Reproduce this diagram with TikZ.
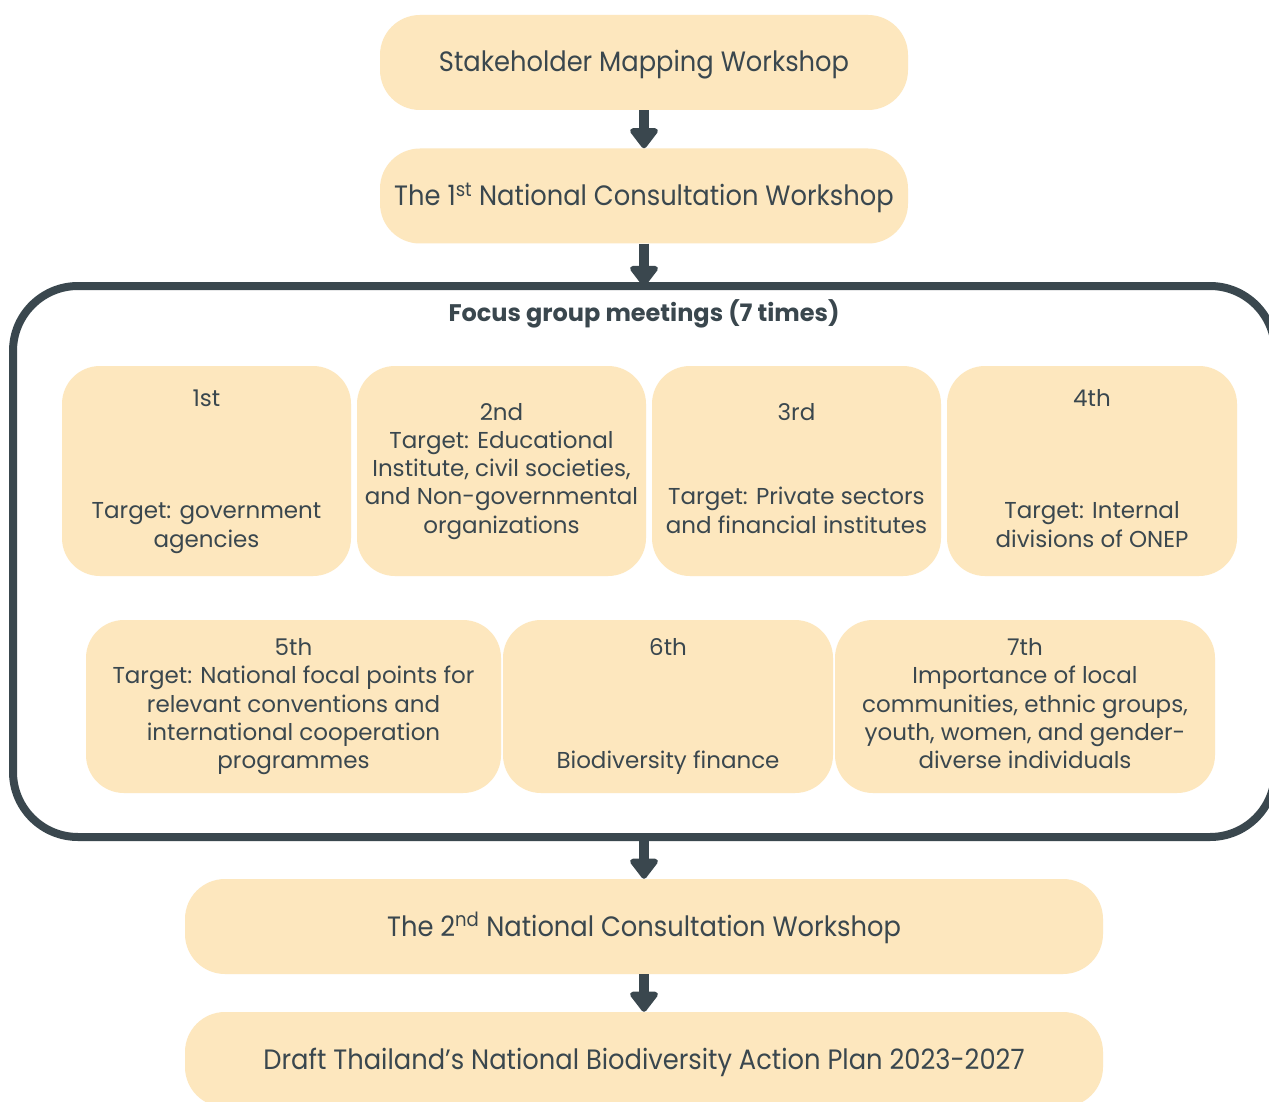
\documentclass[tikz,border=0pt]{standalone}
\usepackage{fontspec}
\setmainfont{Poppins}
\newfontfamily\stagefont{Poppins}[FakeStretch=0.92]
\usetikzlibrary{arrows.meta}
\definecolor{boxfill}{HTML}{FDE7BE}
\definecolor{ink}{HTML}{3A474E}
\begin{document}
\begin{tikzpicture}[x=1pt,y=-1pt,
  stage/.style={fill=boxfill, rounded corners=40pt, inner sep=0pt, text=ink,
    font=\stagefont\fontsize{28}{32}\selectfont, align=center, minimum height=95pt,
    text height=20pt, text depth=1pt},
  meet/.style={fill=boxfill, rounded corners=38pt, inner sep=0pt, text=ink,
    font=\fontsize{23}{28.2}\selectfont, align=center},
  frame/.style={draw=ink, line width=8pt, rounded corners=65pt, inner sep=0pt},
  flow/.style={draw=ink, line width=10pt, -{Triangle[width=32pt,length=22pt,round]}},
  headline/.style={text=ink, font=\fontsize{24}{28}\selectfont\bfseries, inner sep=0pt},
]
\useasboundingbox (0,0) rectangle (1269,1102);
\clip (0,0) rectangle (1269,1102);
\fill[white] (0,0) rectangle (1269,1102);

\node[stage, minimum width=528pt] (s1) at (644,62.5) {Stakeholder Mapping Workshop};
\node[stage, minimum width=528pt] (s2) at (644,196) {The 1\textsuperscript{st} National Consultation Workshop};

\node[frame, minimum width=1262pt, minimum height=551pt] (focus) at (644,561.5) {};
\node[headline] (title) at (644,314) {Focus group meetings (7 times)};

\node[meet, minimum width=289pt, minimum height=210pt] (m1) at (206.5,471)
  {\strut 1st\\ \mbox{}\\ \mbox{}\\ \mbox{}\\ Target: government\\ agencies\strut};
\node[meet, minimum width=289pt, minimum height=210pt] (m2) at (501.5,471)
  {\strut 2nd\\ Target: Educational\\ Institute, civil societies,\\ and Non-governmental\\ organizations\strut};
\node[meet, minimum width=289pt, minimum height=210pt] (m3) at (796.5,471)
  {\strut 3rd\\ \mbox{}\\ \mbox{}\\ Target: Private sectors\\ and financial institutes\strut};
\node[meet, minimum width=290pt, minimum height=210pt] (m4) at (1092,471)
  {\strut 4th\\ \mbox{}\\ \mbox{}\\ \mbox{}\\ Target: Internal\\ divisions of ONEP\strut};

\node[meet, minimum width=415pt, minimum height=173pt] (m5) at (293.5,706.5)
  {\strut 5th\\ Target: National focal points for\\ relevant conventions and\\ international cooperation\\ programmes\strut};
\node[meet, minimum width=330pt, minimum height=173pt] (m6) at (668,706.5)
  {\strut 6th\\ \mbox{}\\ \mbox{}\\ \mbox{}\\ Biodiversity finance\strut};
\node[meet, minimum width=380pt, minimum height=173pt] (m7) at (1025,706.5)
  {\strut 7th\\ Importance of local\\ communities, ethnic groups,\\ youth, women, and gender-\\ diverse individuals\strut};

\node[stage, minimum width=918pt] (n2) at (644,926.5) {The 2\textsuperscript{nd} National Consultation Workshop};
\node[stage, minimum width=918pt] (draft) at (644,1059.5) {Draft Thailand’s National Biodiversity Action Plan 2023-2027};

\draw[flow] (s1.south) -- (s2.north);
\draw[flow] (s2.south) -- ([yshift=-4pt]focus.north);
\draw[flow] ([yshift=4pt]focus.south) -- (n2.north);
\draw[flow] (n2.south) -- (draft.north);
\end{tikzpicture}
\end{document}
